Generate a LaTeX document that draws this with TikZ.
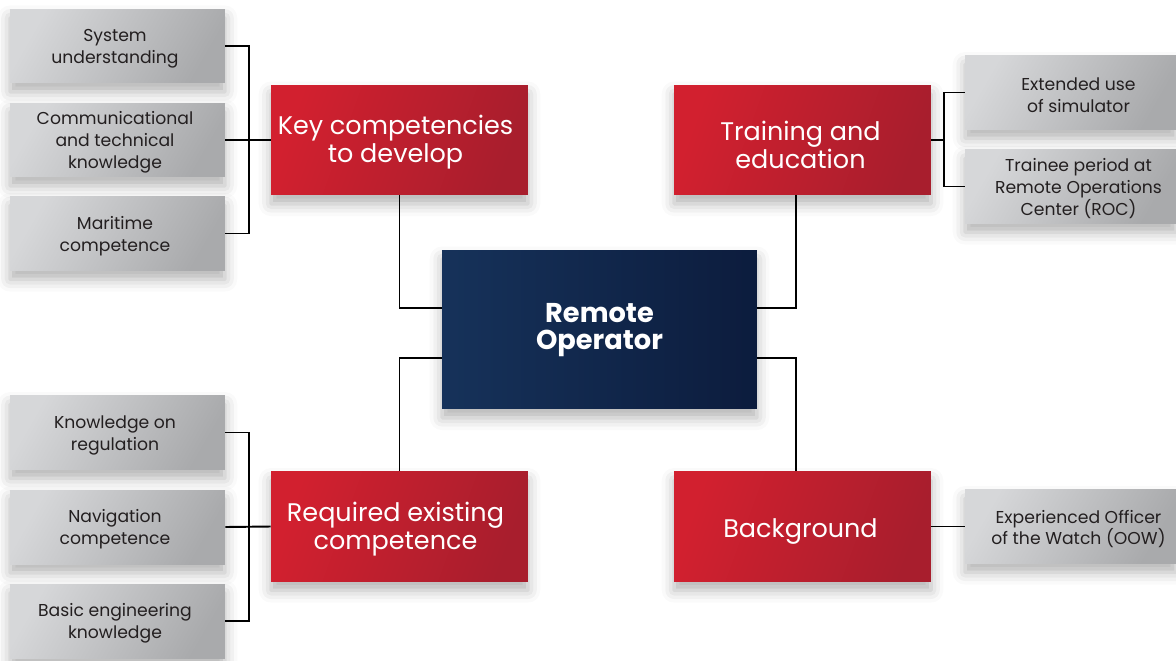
\documentclass[tikz,border=0pt]{standalone}
\usepackage{fontspec}
\setmainfont{Poppins}
\usetikzlibrary{shadows.blur,calc}
\definecolor{redL}{HTML}{D2202F}
\definecolor{redR}{HTML}{A81E2D}
\definecolor{navyL}{HTML}{16325A}
\definecolor{navyR}{HTML}{0C1C3D}
\definecolor{grayL}{HTML}{D6D7D9}
\definecolor{grayR}{HTML}{A9AAAC}
\definecolor{txt}{HTML}{231F20}
\tikzset{
  shad/.style={blur shadow={shadow xshift=0pt, shadow yshift=-5pt, shadow blur radius=7pt, shadow opacity=30}},
  graybox/.style={shad, left color=grayL, right color=grayR, shading angle=60, draw=none,
    minimum width=4.30cm, minimum height=1.48cm, inner sep=0pt},
  graytext/.style={align=center, text=txt, font=\fontsize{9.8}{12.5}\selectfont, inner sep=0pt},
  redbox/.style={shad, left color=redL, right color=redR, shading angle=70, draw=none,
    minimum width=5.14cm, minimum height=2.2cm, inner sep=0pt},
  redtext/.style={align=center, text=white, font=\fontsize{14.5}{16}\selectfont, inner sep=0pt},
  navybox/.style={shad, left color=navyL, right color=navyR, draw=none,
    minimum width=6.3cm, minimum height=3.18cm, inner sep=0pt},
  navytext/.style={align=center, text=white, font=\bfseries\fontsize{15.5}{15.4}\selectfont, inner sep=0pt},
  conn/.style={draw=black, line width=1.1pt}
}
\begin{document}
\begin{tikzpicture}[x=0.02cm, y=-0.02cm]
\useasboundingbox (0,0) rectangle (1176,660);
% left top gray
\node[graybox] (s1) at (117.5,46) {};
\node[graytext] (s1t) at ($(s1.center)+(-2.5,2.5)$) {System\\understanding};
\node[graybox] (s2) at (117.5,140) {};
\node[graytext] (s2t) at ($(s2.center)+(-2.5,2.5)$) {Communicational\\and technical\\knowledge};
\node[graybox] (s3) at (117.5,233.5) {};
\node[graytext] (s3t) at ($(s3.center)+(-2.5,2.5)$) {Maritime\\competence};
% left bottom gray
\node[graybox] (b1) at (117.5,432.5) {};
\node[graytext] (b1t) at ($(b1.center)+(-2.5,2.5)$) {Knowledge on\\regulation};
\node[graybox] (b2) at (117.5,527) {};
\node[graytext] (b2t) at ($(b2.center)+(-2.5,2.5)$) {Navigation\\competence};
\node[graybox] (b3) at (117.5,621) {};
\node[graytext] (b3t) at ($(b3.center)+(-2.5,2.5)$) {Basic engineering\\knowledge};
% right gray
\node[graybox, minimum width=4.22cm] (r1) at (1070.5,92.5) {};
\node[graytext] (r1t) at ($(r1.center)+(8,2.5)$) {Extended use\\of simulator};
\node[graybox, minimum width=4.22cm] (r2) at (1070.5,186.5) {};
\node[graytext] (r2t) at ($(r2.center)+(8,2.5)$) {Trainee period at\\Remote Operations\\Center (ROC)};
\node[graybox, minimum width=4.22cm] (r3) at (1070.5,526.5) {};
\node[graytext] (r3t) at ($(r3.center)+(8,2.5)$) {Experienced Officer\\of the Watch (OOW)};
% red boxes
\node[redbox] (key) at (399.5,140) {};
\node[redtext] (keyt) at ($(key.center)+(-4,2)$) {Key competencies\\to develop};
\node[redbox] (tr) at (802.5,140) {};
\node[redtext] (trt) at ($(tr.center)+(-2,5)$) {Training and\\education};
\node[redbox] (req) at (399.5,526.5) {};
\node[redtext] (reqt) at ($(req.center)+(-4,3)$) {Required existing\\competence};
\node[redbox] (bg) at (802.5,526.5) {};
\node[redtext] (bgt) at ($(bg.center)+(-2,5)$) {Background};
% center
\node[navybox] (ro) at (599.5,329.5) {};
\node[navytext] (rot) at ($(ro.center)+(0,1)$) {Remote\\Operator};
% brackets left
\coordinate (jl) at (249,140);
\draw[conn] (s1.east) -| (jl) |- (s3.east);
\draw[conn] (s2.east) -- (key.west);
\coordinate (jb) at (249,527);
\draw[conn] (b1.east) -| (jb) |- (b3.east);
\draw[conn] (b2.east) -- (req.west);
% brackets right
\coordinate (jr) at (944,140);
\draw[conn] (r1.west) -| (jr) |- (r2.west);
\draw[conn] (tr.east) -- (jr);
\draw[conn] (bg.east) -- (r3.west);
% center connectors
\draw[conn] (key.south) |- ($(ro.west)+(0,-21.5)$);
\draw[conn] ($(tr.south)+(-6.5,0)$) |- ($(ro.east)+(0,-21.5)$);
\draw[conn] (req.north) |- ($(ro.west)+(0,28.5)$);
\draw[conn] ($(bg.north)+(-6.5,0)$) |- ($(ro.east)+(0,28.5)$);
\end{tikzpicture}
\end{document}
